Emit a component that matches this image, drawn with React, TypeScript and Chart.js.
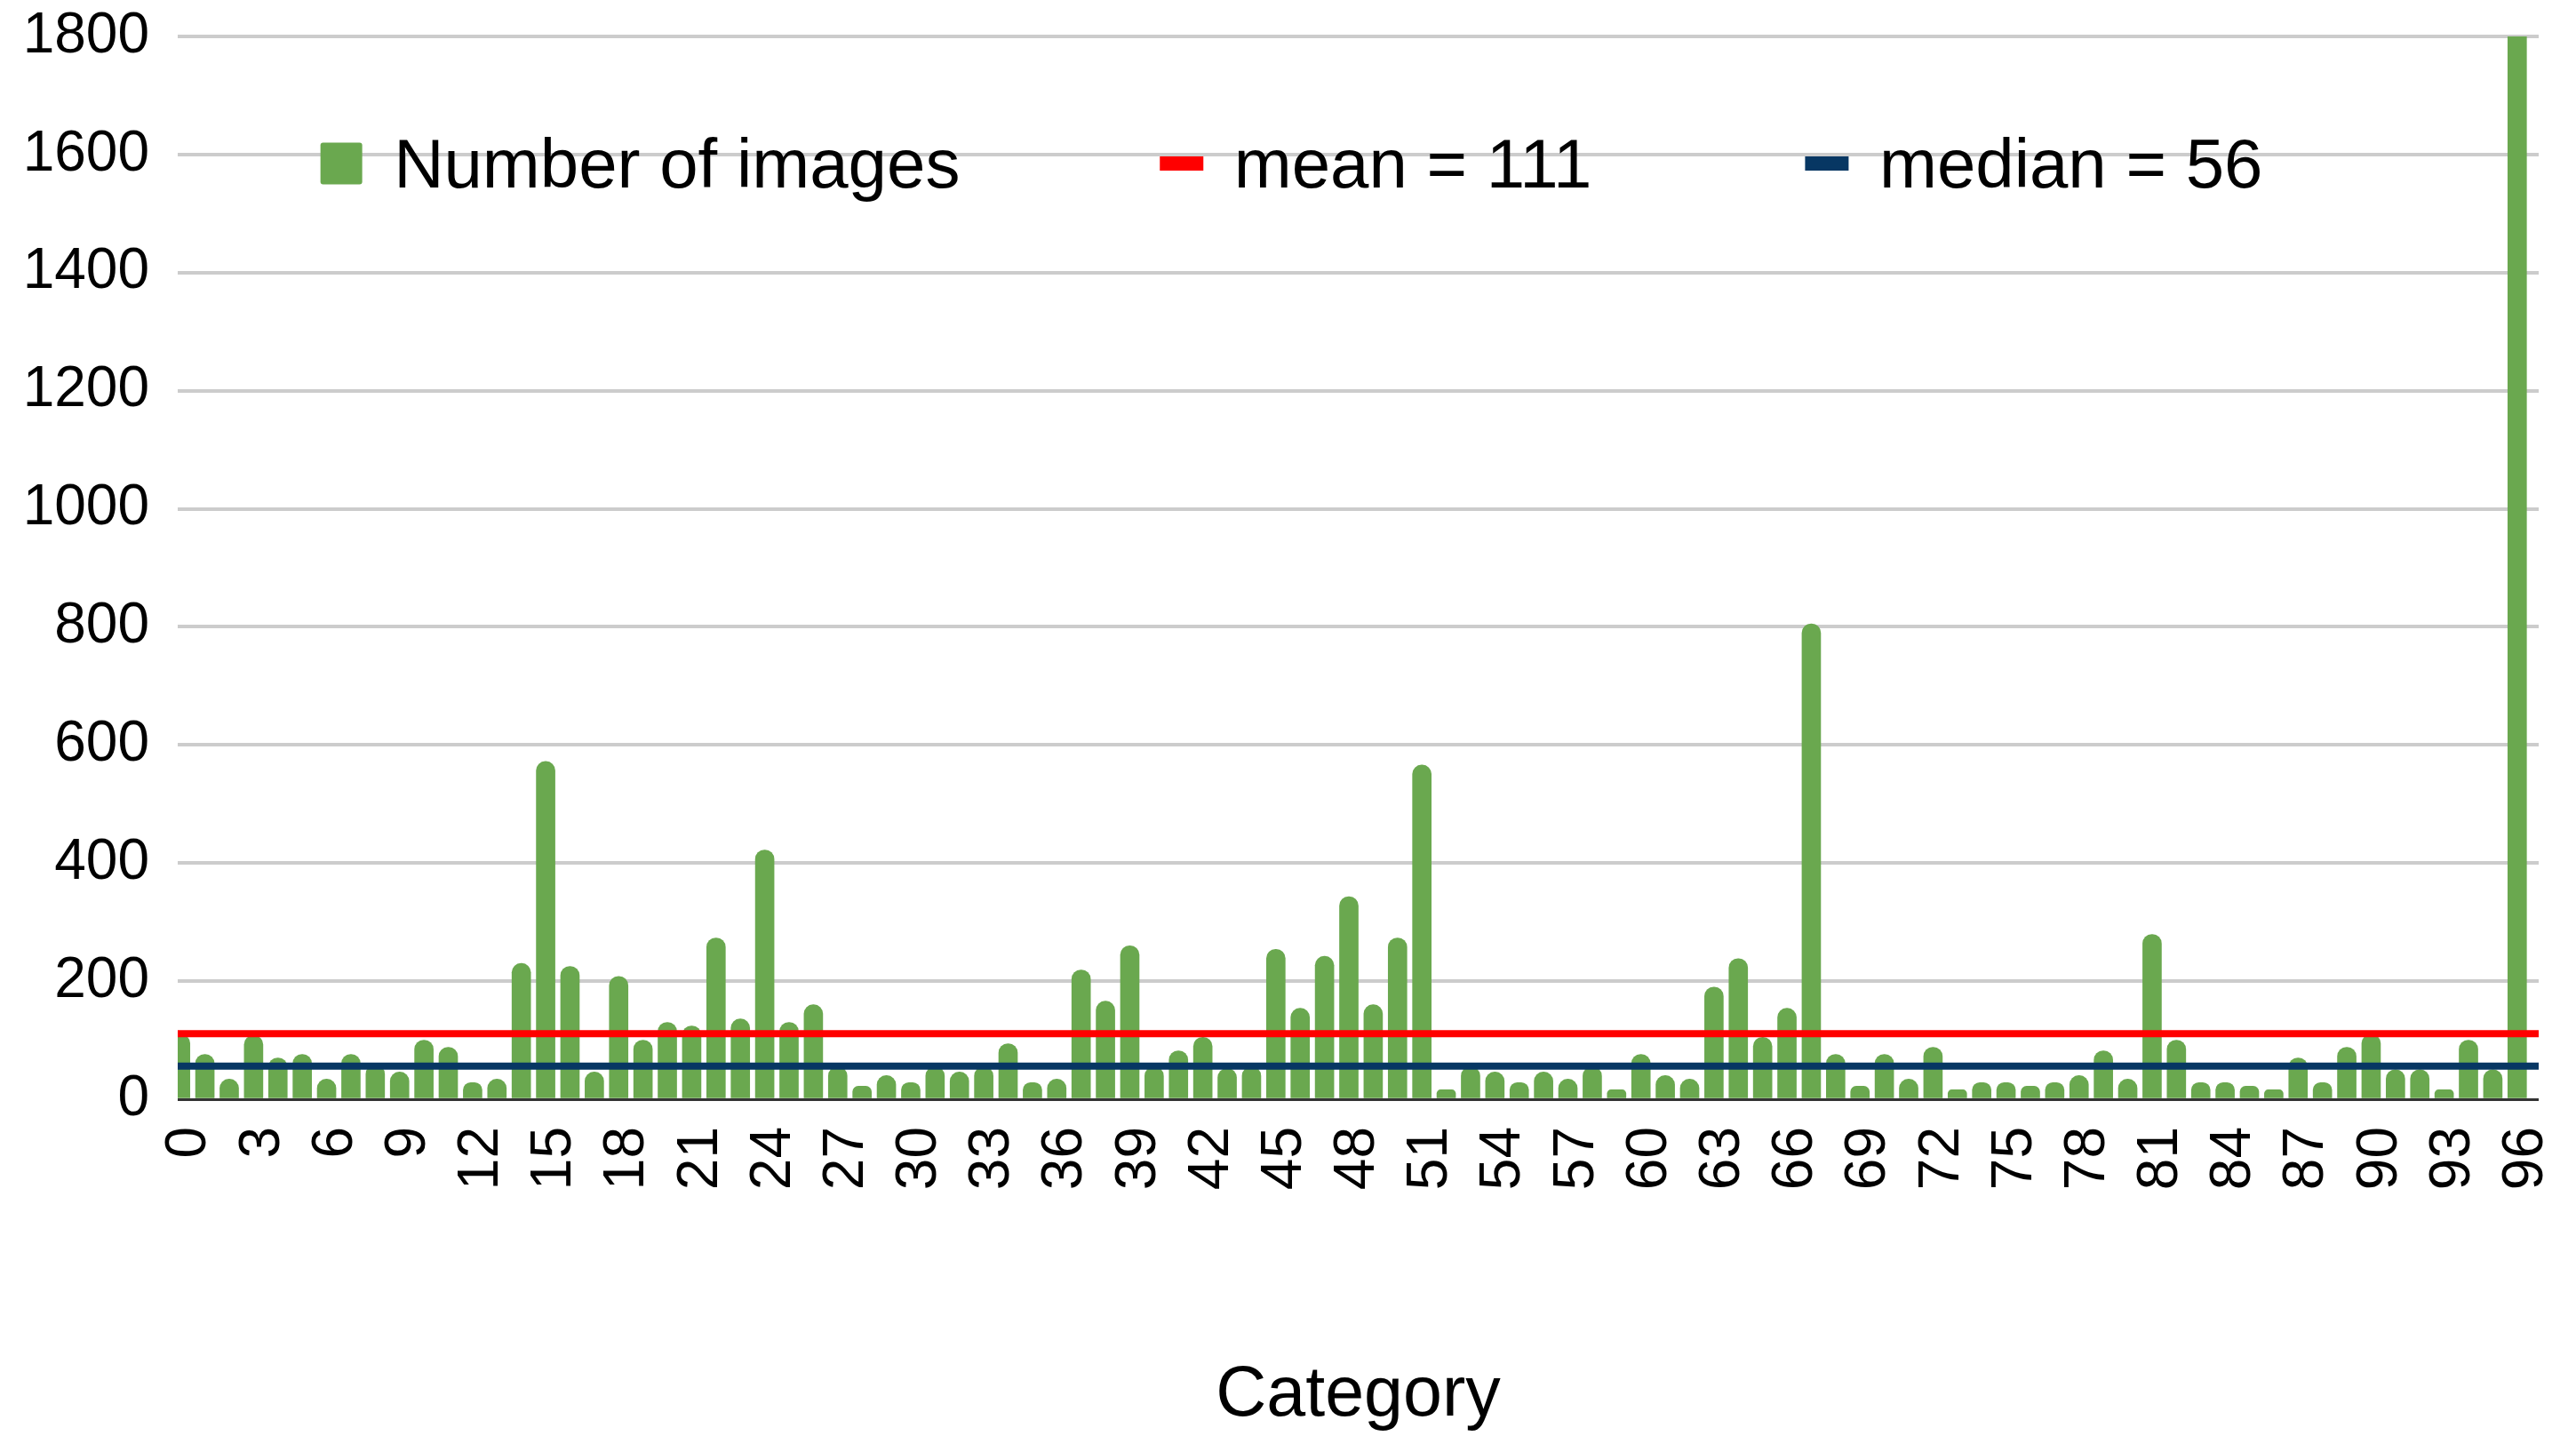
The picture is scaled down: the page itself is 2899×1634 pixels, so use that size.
import React, { useEffect, useRef } from "react";
import { Chart, registerables } from "chart.js";

Chart.register(...registerables);

const categories = [
  "0", "1", "2", "3", "4", "5", "6", "7", "8", "9",
  "10", "11", "12", "13", "14", "15", "16", "17", "18", "19",
  "20", "21", "22", "23", "24", "25", "26", "27", "28", "29",
  "30", "31", "32", "33", "34", "35", "36", "37", "38", "39",
  "40", "41", "42", "43", "44", "45", "46", "47", "48", "49",
  "50", "51", "52", "53", "54", "55", "56", "57", "58", "59",
  "60", "61", "62", "63", "64", "65", "66", "67", "68", "69",
  "70", "71", "72", "73", "74", "75", "76", "77", "78", "79",
  "80", "81", "82", "83", "84", "85", "86", "87", "88", "89",
  "90", "91", "92", "93", "94", "95", "96",
];

const shownTickLabels = [
  "0", "3", "6", "9", "12", "15", "18", "21", "24", "27", "30", "33", "36",
  "39", "42", "45", "48", "51", "54", "57", "60", "63", "66", "69", "72",
  "75", "78", "81", "84", "87", "90", "93", "96",
];

const numberOfImages = [
  110, 76, 34, 108, 70, 76, 34, 76, 58, 46,
  100, 88, 28, 34, 230, 572, 225, 46, 208, 100,
  130, 124, 273, 136, 422, 130, 160, 55, 22, 40,
  28, 55, 46, 55, 94, 28, 34, 219, 166, 260,
  55, 82, 105, 52, 55, 254, 154, 242, 343, 160,
  273, 566, 16, 55, 46, 28, 46, 34, 55, 16,
  76, 40, 34, 190, 238, 105, 154, 805, 76, 22,
  76, 34, 88, 16, 28, 28, 22, 28, 40, 82,
  34, 279, 100, 28, 28, 22, 16, 70, 28, 88,
  110, 50, 50, 16, 100, 50, 1830,
];

const meanValue = 111;
const medianValue = 56;

const seriesNames = ["Number of images", "mean = 111", "median = 56"];
const axisTitleX = "Category";

const yMin = 0;
const yMax = 1800;
const yStep = 200;

const GREEN = "#6aa84f";
const RED = "#ff0000";
const NAVY = "#073763";
const FONT = '"Liberation Sans", Arial, Helvetica, sans-serif';

const insideLegend = {
  id: "insideLegend",
  afterDraw(chart: any) {
    const { ctx, chartArea } = chart;
    const w = chartArea.right - chartArea.left;
    const cy = chartArea.top + 143;
    const baseline = chartArea.top + 170;
    const items = [
      { frac: 0.0693, kind: "box", color: GREEN, text: seriesNames[0] },
      { frac: 0.4252, kind: "line", color: RED, text: seriesNames[1] },
      { frac: 0.6985, kind: "line", color: NAVY, text: seriesNames[2] },
    ];
    ctx.save();
    ctx.font = `78px ${FONT}`;
    ctx.textBaseline = "alphabetic";
    ctx.textAlign = "left";
    for (const it of items) {
      const cx = chartArea.left + w * it.frac;
      ctx.fillStyle = it.color;
      if (it.kind === "box") {
        const s = 47;
        ctx.beginPath();
        if ((ctx as any).roundRect) {
          (ctx as any).roundRect(cx - s / 2, cy - s / 2, s, s, 3);
        } else {
          ctx.rect(cx - s / 2, cy - s / 2, s, s);
        }
        ctx.fill();
      } else {
        ctx.fillRect(cx - 24.5, cy - 8, 49, 16);
      }
      ctx.fillStyle = "#000000";
      ctx.fillText(it.text, cx + 59, baseline);
    }
    ctx.restore();
  },
};

export default function App() {
  const canvasRef = useRef<HTMLCanvasElement | null>(null);

  useEffect(() => {
    document.body.style.margin = "0";
    document.body.style.overflow = "hidden";
    const canvas = canvasRef.current;
    if (!canvas) return;

    const chart = new Chart(canvas, {
      type: "bar",
      data: {
        labels: categories,
        datasets: [
          {
            type: "bar",
            label: seriesNames[0],
            data: numberOfImages,
            backgroundColor: GREEN,
            borderWidth: 0,
            borderRadius: { topLeft: 11, topRight: 11, bottomLeft: 0, bottomRight: 0 },
            borderSkipped: "start",
            barThickness: 21,
            order: 2,
          } as any,
          {
            type: "line",
            label: seriesNames[1],
            data: [
              { x: 0, y: meanValue },
              { x: 1, y: meanValue },
            ],
            xAxisID: "xLine",
            borderColor: RED,
            backgroundColor: RED,
            borderWidth: 8,
            borderCapStyle: "butt",
            pointRadius: 0,
            fill: false,
            order: 1,
          } as any,
          {
            type: "line",
            label: seriesNames[2],
            data: [
              { x: 0, y: medianValue },
              { x: 1, y: medianValue },
            ],
            xAxisID: "xLine",
            borderColor: NAVY,
            backgroundColor: NAVY,
            borderWidth: 8,
            borderCapStyle: "butt",
            pointRadius: 0,
            fill: false,
            order: 1,
          } as any,
        ],
      },
      options: {
        responsive: false,
        animation: false,
        devicePixelRatio: 1,
        layout: {
          padding: { left: 26, right: 42, top: 41, bottom: 0 },
        },
        plugins: {
          legend: { display: false },
          tooltip: { enabled: false },
          title: { display: false },
        },
        scales: {
          x: {
            type: "category",
            offset: true,
            grid: { display: false, drawTicks: false },
            border: { display: false },
            ticks: {
              autoSkip: false,
              minRotation: 90,
              maxRotation: 90,
              padding: 31,
              color: "#000000",
              font: { family: FONT, size: 64 },
              callback: (_v: any, i: number) =>
                shownTickLabels.includes(categories[i]) ? categories[i] : "",
            },
            title: {
              display: true,
              text: axisTitleX,
              color: "#000000",
              font: { family: FONT, size: 79 },
              padding: { top: 150, bottom: 15 },
            },
            afterFit: (s: any) => {
              s.paddingLeft = 0;
              s.paddingRight = 0;
              s.height = 397;
            },
          },
          xLine: {
            type: "linear",
            min: 0,
            max: 1,
            offset: false,
            display: false,
          },
          y: {
            type: "linear",
            min: yMin,
            max: yMax,
            border: { display: false },
            grid: {
              drawTicks: false,
              color: (c: any) => (c.tick && c.tick.value === 0 ? "#333333" : "#cccccc"),
              lineWidth: (c: any) => (c.tick && c.tick.value === 0 ? 3 : 4),
            },
            ticks: {
              stepSize: yStep,
              padding: 32,
              color: "#000000",
              font: { family: FONT, size: 64 },
              callback: (v: any) => String(v),
            },
            afterFit: (s: any) => {
              s.paddingTop = 0;
              s.paddingBottom = 0;
              s.width = 174;
            },
          },
        },
      } as any,
      plugins: [insideLegend],
    });

    return () => {
      chart.destroy();
    };
  }, []);

  return (
    <div style={{ width: 2899, height: 1634, background: "#ffffff" }}>
      <canvas
        ref={canvasRef}
        width={2899}
        height={1634}
        style={{ display: "block", width: 2899, height: 1634 }}
      />
    </div>
  );
}
